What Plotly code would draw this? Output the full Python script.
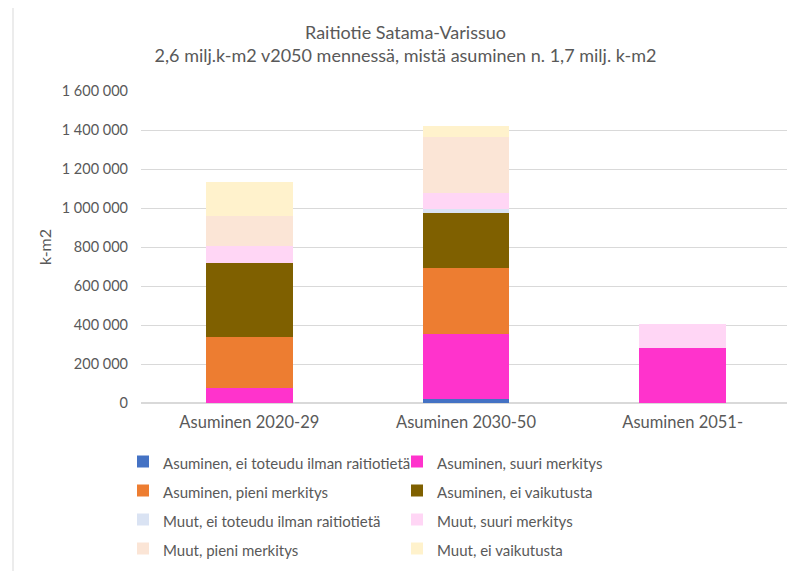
import plotly.graph_objects as go

categories = ["Asuminen 2020-29", "Asuminen 2030-50", "Asuminen 2051-"]

series_names = [
    "Asuminen, ei toteudu ilman raitiotietä",
    "Asuminen, suuri merkitys",
    "Asuminen, pieni merkitys",
    "Asuminen, ei vaikutusta",
    "Muut, ei toteudu ilman raitiotietä",
    "Muut, suuri merkitys",
    "Muut, pieni merkitys",
    "Muut, ei vaikutusta",
]

asuminen_ei_toteudu = [0, 18000, 0]
asuminen_suuri = [75000, 334000, 284000]
asuminen_pieni = [265000, 342000, 0]
asuminen_ei_vaikutusta = [380000, 282000, 0]
muut_ei_toteudu = [0, 20000, 0]
muut_suuri = [85000, 79000, 120000]
muut_pieni = [155000, 291000, 0]
muut_ei_vaikutusta = [172000, 54000, 0]

series_values = [
    asuminen_ei_toteudu, asuminen_suuri, asuminen_pieni, asuminen_ei_vaikutusta,
    muut_ei_toteudu, muut_suuri, muut_pieni, muut_ei_vaikutusta,
]

colors = ["#4472C4", "#FF33CC", "#ED7D31", "#7F6000",
          "#DAE3F3", "#FFD6F5", "#FBE5D6", "#FFF2CC"]

FONT = "Lato"
GRAY = "#595959"

fig = go.Figure()
for name, vals, col in zip(series_names, series_values, colors):
    fig.add_trace(go.Bar(
        x=categories, y=vals, marker_color=col, marker_line_width=0,
        name='<span style="font-size:15px">' + name + '</span>'))

# page has an 8px body margin: all positions below are in figure pixels
W, H = 795, 571
L, R, T, B = 133, 12, 83, 176
pw, ph = W - L - R, H - T - B

def px_x(p):
    return (p - L) / pw

def px_y(p):
    return (H - B - p) / ph

fig.update_layout(
    width=W, height=H,
    margin=dict(l=L, r=R, t=T, b=B, pad=0, autoexpand=False),
    barmode="stack", bargap=0.6,
    plot_bgcolor="white", paper_bgcolor="white",
    separators=", ",
    font=dict(family=FONT, color=GRAY, size=14),
    title=dict(
        text="Raitiotie Satama-Varissuo<br>2,6 milj.k-m2 v2050 mennessä, mistä asuminen n. 1,7 milj. k-m2",
        x=0.5, xanchor="center", xref="container",
        y=1 - 31 / H, yanchor="top", yref="container",
        font=dict(family=FONT, size=18, color=GRAY),
    ),
    xaxis=dict(showgrid=False, showline=False, ticks="",
               tickfont=dict(size=16.5, color=GRAY), ticklabelstandoff=7),
    yaxis=dict(range=[0, 1600000], dtick=200000, tickformat=",d",
               gridcolor="#D9D9D9", gridwidth=1, zeroline=True, zerolinecolor="#D9D9D9",
               showline=False, ticks="", ticklabelstandoff=12,
               tickfont=dict(size=14.5, color=GRAY),
               title=dict(text="k-m2", font=dict(size=16, color=GRAY), standoff=6)),
    legend=dict(orientation="h", xref="container", yref="container",
                x=115 / W, xanchor="left", y=1 - 434 / H, yanchor="top",
                entrywidth=229, entrywidthmode="pixels", traceorder="normal",
                font=dict(family=FONT, size=20, color=GRAY), itemwidth=30,
                bgcolor="rgba(0,0,0,0)"),
    shapes=[dict(type="rect", xref="paper", yref="paper",
                 x0=px_x(5), x1=px_x(810), y0=px_y(590), y1=px_y(-3),
                 line=dict(color="#D9D9D9", width=1), layer="below")],
)

fig.write_html("out.html")
